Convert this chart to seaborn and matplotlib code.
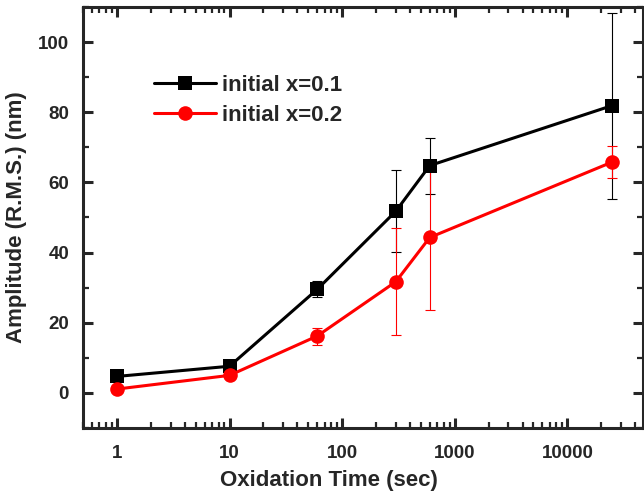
import numpy as np
import pandas as pd
import matplotlib
matplotlib.use("Agg")
import matplotlib.pyplot as plt
import matplotlib.ticker as mticker
import seaborn as sns

# Data
times = [1, 10, 60, 300, 600, 25000]
amp_x01 = [4.7, 7.6, 29.5, 51.8, 64.8, 81.9]
err_x01 = [0.5, 0.5, 2.3, 11.7, 8.0, 26.5]
amp_x02 = [1.1, 5.0, 16.2, 31.7, 44.3, 65.8]
err_x02 = [0.5, 0.5, 2.4, 15.2, 20.7, 4.6]
labels = ["initial x=0.1", "initial x=0.2"]
colors = ["black", "red"]
markers = ["s", "o"]

df = pd.concat([
    pd.DataFrame({"time": times, "amp": amp_x01, "err": err_x01, "series": labels[0]}),
    pd.DataFrame({"time": times, "amp": amp_x02, "err": err_x02, "series": labels[1]}),
])

sns.set_style("ticks")
plt.rcParams['font.family'] = ['Liberation Sans', 'DejaVu Sans']
plt.rcParams['font.weight'] = 'bold'

fig = plt.figure(figsize=(6.44, 4.99), dpi=100)
ax = fig.add_axes([83 / 644, 1 - 428 / 499, 560 / 644, 421 / 499])

# error bars first, thin
for lab, col in zip(labels, colors):
    sub = df[df["series"] == lab]
    ax.errorbar(sub["time"], sub["amp"], yerr=sub["err"], fmt="none",
                ecolor=col, elinewidth=0.8, capsize=3.5, capthick=0.8, zorder=2)

sns.lineplot(data=df, x="time", y="amp", hue="series", style="series",
             palette=dict(zip(labels, colors)), markers=dict(zip(labels, markers)),
             dashes=False, linewidth=2.2, markersize=10.5, markeredgewidth=0,
             ax=ax, zorder=3)

ax.set_xscale("log")
ax.set_xlim(0.5, 47000)
ax.set_ylim(-10, 110)
ax.xaxis.set_major_locator(mticker.LogLocator(base=10, numticks=10))
ax.xaxis.set_major_formatter(mticker.FuncFormatter(lambda v, p: f"{v:g}" if v < 1e5 else ""))
ax.xaxis.set_minor_locator(mticker.LogLocator(base=10, subs=np.arange(2, 10), numticks=20))
ax.xaxis.set_minor_formatter(mticker.NullFormatter())
ax.yaxis.set_major_locator(mticker.MultipleLocator(20))
ax.yaxis.set_minor_locator(mticker.MultipleLocator(10))

for s in ax.spines.values():
    s.set_linewidth(2.2)
ax.tick_params(which="both", direction="in", top=True, right=True)
ax.tick_params(which="major", length=7, width=2.2, labelsize=13.5)
ax.tick_params(axis="x", which="major", pad=12)
ax.tick_params(axis="y", which="major", pad=10)
ax.tick_params(which="minor", length=4, width=1.6)
for t in ax.get_xticklabels() + ax.get_yticklabels():
    t.set_fontweight("bold")

ax.set_xlabel("Oxidation Time (sec)", fontsize=16, fontweight="bold")
ax.xaxis.set_label_coords((329 - 83) / 560, -0.100)
ax.set_ylabel("Amplitude (R.M.S.) (nm)", fontsize=16, fontweight="bold", labelpad=8)

ax.legend(frameon=False, loc="upper left", bbox_to_anchor=(0.091, 0.886),
          handlelength=2.8, handletextpad=0.25, labelspacing=0.4,
          prop={"weight": "bold", "size": 16})

fig.savefig("out.png", dpi=100)
